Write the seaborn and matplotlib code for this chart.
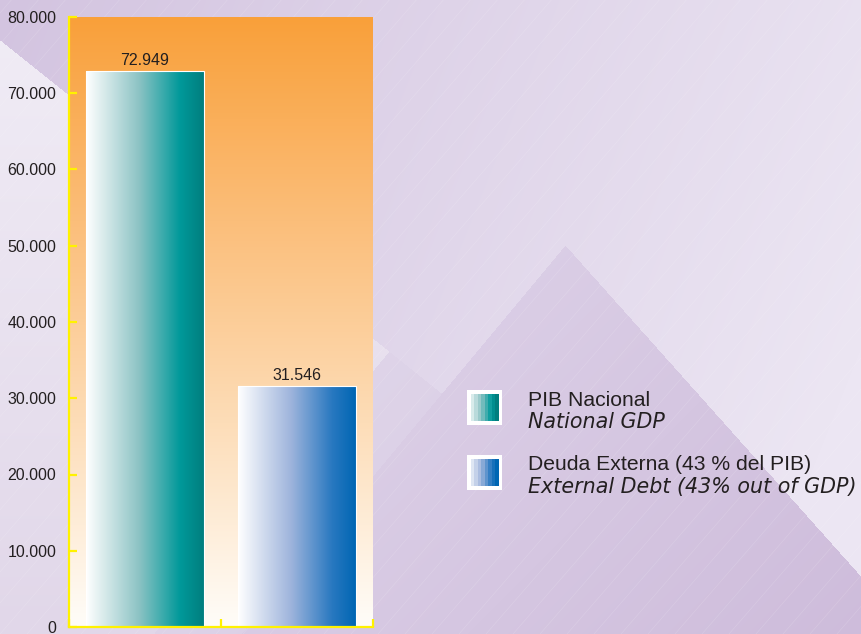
import numpy as np
import pandas as pd
import matplotlib
matplotlib.use("Agg")
import matplotlib.pyplot as plt
from matplotlib.colors import LinearSegmentedColormap
from matplotlib.ticker import FuncFormatter, FixedLocator
import seaborn as sns

# ---- data ----
categories = ["PIB Nacional", "Deuda Externa"]
values = [72949, 31546]
value_labels = ["72.949", "31.546"]
legend_es = ["PIB Nacional", "Deuda Externa (43 % del PIB)"]
legend_en = ["National GDP", "External Debt (43% out of GDP)"]
y_ticks = [0, 10000, 20000, 30000, 40000, 50000, 60000, 70000, 80000]

sns.set_theme(style="white")
plt.rcParams["font.family"] = ["Liberation Sans", "DejaVu Sans"]

W, H = 862, 634
fig = plt.figure(figsize=(W / 100, H / 100), dpi=100)

# ---- decorative background ----
yy, xx = np.mgrid[0:H, 0:W].astype(float)
def c(rgb):
    return np.array(rgb, dtype=float) / 255.0
t = np.clip((xx + 0.4 * yy) / 1000, 0, 1)[..., None]
img = c((211, 196, 224)) * (1 - t) + c((236, 230, 243)) * t
# left light region below the top-left diagonal
left = (yy > 40 + 0.8 * xx) & (yy < 818 - 1.2 * xx)
tl = (yy / H)[..., None]
light_left = c((241, 237, 246)) * (1 - tl) + c((225, 215, 233)) * tl
img = np.where(left[..., None], light_left, img)
# lower middle region (below the left diagonal, left of the peak)
tp = np.clip(((xx + yy) - 700) / 800, 0, 1)[..., None]
low = (yy >= 818 - 1.2 * xx) & (yy > 40 + 0.8 * xx) & (yy > 245 + 1.12 * (xx - 565))
low_col = c((223, 213, 233)) * (1 - tp) + c((210, 194, 223)) * tp
img = np.where(low[..., None], low_col, img)
# peak region (below both peak slopes)
peak = (yy > 923 - 1.2 * xx) & (yy > 245 + 1.12 * (xx - 565))
peak_col = c((220, 208, 231)) * (1 - tp) + c((206, 188, 219)) * tp
img = np.where(peak[..., None], peak_col, img)

bg = fig.add_axes([0, 0, 1, 1], zorder=-10)
bg.imshow(img, extent=[0, W, H, 0], aspect="auto", interpolation="bilinear")
for k in range(-40, 60):
    x0 = k * 27
    bg.plot([x0, x0 + 700], [H, H - 700 * 1.15], color="white", lw=0.5, alpha=0.15)
bg.set_xlim(0, W)
bg.set_ylim(H, 0)
bg.axis("off")

# ---- main axes ----
ax = fig.add_axes([69 / W, 7 / H, 304 / W, 610 / H])
ax.set_facecolor("none")
df = pd.DataFrame({"cat": categories, "val": values})
sns.barplot(data=df, x="cat", y="val", hue="cat", palette=["#008B8B", "#0066B3"],
            width=0.77, ax=ax, legend=False, saturation=1)
ax.set_xlim(-0.5, 1.5)
ax.set_ylim(0, 80000)

orange = LinearSegmentedColormap.from_list("or", ["#FFFDF9", "#FDDDB8", "#FBBE7A", "#F9A03A"])
grad = np.linspace(0, 1, 256)[:, None]
ax.imshow(grad, extent=[-0.5, 1.5, 0, 80000], origin="lower", cmap=orange,
          aspect="auto", zorder=0)

cmaps = [
    LinearSegmentedColormap.from_list("teal", [(0, "#FFFFFF"), (0.45, "#8CC3C4"), (0.8, "#00999A"), (1, "#007E7E")]),
    LinearSegmentedColormap.from_list("blue", [(0, "#FFFFFF"), (0.45, "#9EB4DC"), (0.8, "#2878C0"), (1, "#0066B3")]),
]
hgrad = np.linspace(0, 1, 256)[None, :]
for patch, cm, lab in zip(ax.patches, cmaps, value_labels):
    x0, y0 = patch.get_x(), patch.get_y()
    w, h = patch.get_width(), patch.get_height()
    im = ax.imshow(hgrad, extent=[x0, x0 + w, y0, y0 + h], cmap=cm, aspect="auto", zorder=2)
    im.set_clip_path(patch)
    patch.set_facecolor("none")
    patch.set_edgecolor("white")
    patch.set_linewidth(0.8)
    patch.set_zorder(3)
    ax.text(x0 + w / 2, y0 + h + 400, lab, ha="center", va="bottom",
            fontsize=11.5, color="#231F20", zorder=4)

ax.set_xlim(-0.5, 1.5)
ax.set_ylim(0, 80000)
ax.set_xlabel("")
ax.set_ylabel("")
for s in ["top", "right"]:
    ax.spines[s].set_visible(False)
for s in ["left", "bottom"]:
    ax.spines[s].set_color("#FFF200")
    ax.spines[s].set_linewidth(1.6)
    ax.spines[s].set_zorder(5)
ax.yaxis.set_major_locator(FixedLocator(y_ticks))
ax.yaxis.set_major_formatter(FuncFormatter(lambda v, p: f"{int(v):,}".replace(",", ".")))
ax.xaxis.set_major_locator(FixedLocator([-0.5, 0.5, 1.5]))
ax.set_xticklabels([])
ax.tick_params(axis="y", direction="in", length=6, width=1.6, color="#FFF200",
               labelsize=11.5, labelcolor="#231F20", pad=9, left=True)
ax.tick_params(axis="x", direction="in", length=6, width=1.6, color="#FFF200", bottom=True)

# ---- legend ----
swatch_y = [390, 455]
for sy, cm, es, en in zip(swatch_y, cmaps, legend_es, legend_en):
    lax = fig.add_axes([467 / W, 1 - (sy + 35) / H, 35 / W, 35 / H])
    lax.set_facecolor("white")
    steps = np.linspace(0.15, 1.0, 8)[None, :]
    lax.imshow(steps, extent=[4, 31, 4, 31], cmap=cm, vmin=0, vmax=1, aspect="auto")
    lax.set_xlim(0, 35)
    lax.set_ylim(0, 35)
    lax.set_xticks([])
    lax.set_yticks([])
    for s in lax.spines.values():
        s.set_visible(False)
    fig.text(528 / W, 1 - (sy + 10) / H, es, fontsize=15.2, color="#231F20",
             va="center", ha="left", family=["Liberation Sans", "DejaVu Sans"])
    fig.text(528 / W, 1 - (sy + 32) / H, en, fontsize=14.9, style="italic", color="#231F20",
             va="center", ha="left", family=["DejaVu Sans"])

fig.savefig("out.png", dpi=100)
